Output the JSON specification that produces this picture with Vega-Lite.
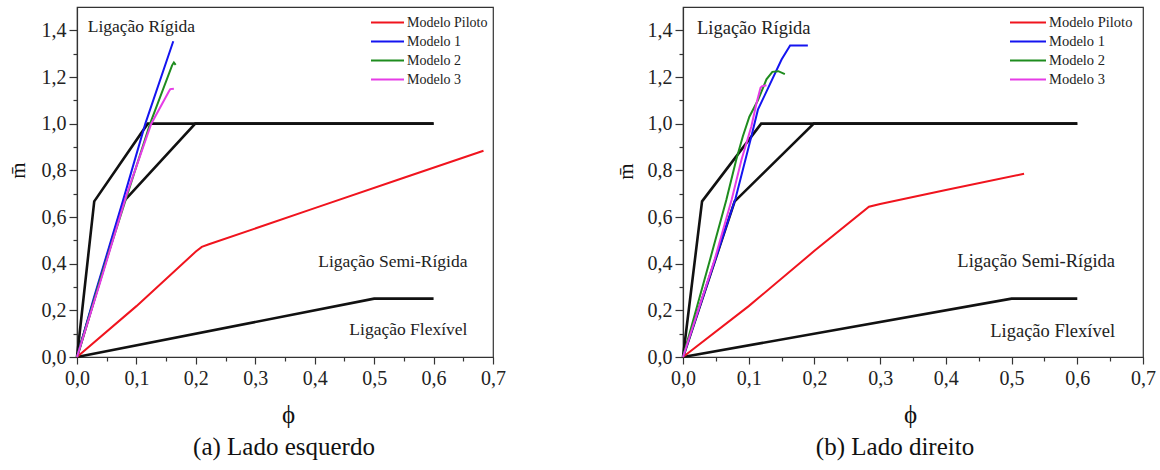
{
  "$schema": "https://vega.github.io/schema/vega-lite/v6.json",
  "background": "white",
  "padding": {"left": 6, "top": 6, "right": 0, "bottom": 0},
  "config": {
    "font": "Liberation Serif, Times New Roman, Times, serif",
    "view": {"stroke": "#333", "strokeWidth": 1.2},
    "axis": {"domainColor": "#333", "domainWidth": 1.2, "tickColor": "#333", "tickWidth": 1.2, "labelFont": "Liberation Serif, Times New Roman, Times, serif", "labelFontSize": 20, "labelColor": "#222", "titleFont": "Liberation Serif, Times New Roman, Times, serif", "titleFontWeight": "normal", "titleColor": "#111", "grid": false, "labelOverlap": false, "labelFlush": false},
    "legend": {"labelFont": "Liberation Serif, Times New Roman, Times, serif"},
    "text": {"font": "Liberation Serif, Times New Roman, Times, serif"},
    "title": {"font": "Liberation Serif, Times New Roman, Times, serif", "fontWeight": "normal", "color": "#111"}
  },
  "datasets": {
    "ref": [
      {"s": "B1", "i": 0, "x": 0, "y": 0}, {"s": "B1", "i": 1, "x": 0.029, "y": 0.667}, {"s": "B1", "i": 2, "x": 0.119, "y": 1.0}, {"s": "B1", "i": 3, "x": 0.6, "y": 1.0},
      {"s": "B2", "i": 0, "x": 0, "y": 0}, {"s": "B2", "i": 1, "x": 0.0786, "y": 0.667}, {"s": "B2", "i": 2, "x": 0.199, "y": 1.0}, {"s": "B2", "i": 3, "x": 0.6, "y": 1.0},
      {"s": "B3", "i": 0, "x": 0, "y": 0}, {"s": "B3", "i": 1, "x": 0.5, "y": 0.25}, {"s": "B3", "i": 2, "x": 0.6, "y": 0.25}
    ],
    "models": [
      {"panel": "L", "s": "Modelo Piloto", "i": 0, "x": 0, "y": 0},
      {"panel": "L", "s": "Modelo Piloto", "i": 1, "x": 0.1, "y": 0.218},
      {"panel": "L", "s": "Modelo Piloto", "i": 2, "x": 0.2, "y": 0.452},
      {"panel": "L", "s": "Modelo Piloto", "i": 3, "x": 0.21, "y": 0.472},
      {"panel": "L", "s": "Modelo Piloto", "i": 4, "x": 0.222, "y": 0.483},
      {"panel": "L", "s": "Modelo Piloto", "i": 5, "x": 0.4, "y": 0.638},
      {"panel": "L", "s": "Modelo Piloto", "i": 6, "x": 0.55, "y": 0.768},
      {"panel": "L", "s": "Modelo Piloto", "i": 7, "x": 0.684, "y": 0.884},
      {"panel": "L", "s": "Modelo 1", "i": 0, "x": 0, "y": 0},
      {"panel": "L", "s": "Modelo 1", "i": 1, "x": 0.029, "y": 0.259},
      {"panel": "L", "s": "Modelo 1", "i": 2, "x": 0.077, "y": 0.667},
      {"panel": "L", "s": "Modelo 1", "i": 3, "x": 0.115, "y": 1.0},
      {"panel": "L", "s": "Modelo 1", "i": 4, "x": 0.162, "y": 1.353},
      {"panel": "L", "s": "Modelo 2", "i": 0, "x": 0, "y": 0},
      {"panel": "L", "s": "Modelo 2", "i": 1, "x": 0.04, "y": 0.34},
      {"panel": "L", "s": "Modelo 2", "i": 2, "x": 0.081, "y": 0.667},
      {"panel": "L", "s": "Modelo 2", "i": 3, "x": 0.123, "y": 1.0},
      {"panel": "L", "s": "Modelo 2", "i": 4, "x": 0.16, "y": 1.25},
      {"panel": "L", "s": "Modelo 2", "i": 5, "x": 0.163, "y": 1.262},
      {"panel": "L", "s": "Modelo 2", "i": 6, "x": 0.166, "y": 1.252},
      {"panel": "L", "s": "Modelo 3", "i": 0, "x": 0, "y": 0},
      {"panel": "L", "s": "Modelo 3", "i": 1, "x": 0.042, "y": 0.345},
      {"panel": "L", "s": "Modelo 3", "i": 2, "x": 0.084, "y": 0.7},
      {"panel": "L", "s": "Modelo 3", "i": 3, "x": 0.125, "y": 1.0},
      {"panel": "L", "s": "Modelo 3", "i": 4, "x": 0.155, "y": 1.14},
      {"panel": "L", "s": "Modelo 3", "i": 5, "x": 0.157, "y": 1.148},
      {"panel": "L", "s": "Modelo 3", "i": 6, "x": 0.163, "y": 1.15},
      {"panel": "R", "s": "Modelo Piloto", "i": 0, "x": 0, "y": 0},
      {"panel": "R", "s": "Modelo Piloto", "i": 1, "x": 0.1, "y": 0.218},
      {"panel": "R", "s": "Modelo Piloto", "i": 2, "x": 0.2, "y": 0.455},
      {"panel": "R", "s": "Modelo Piloto", "i": 3, "x": 0.283, "y": 0.644},
      {"panel": "R", "s": "Modelo Piloto", "i": 4, "x": 0.3, "y": 0.656},
      {"panel": "R", "s": "Modelo Piloto", "i": 5, "x": 0.4, "y": 0.716},
      {"panel": "R", "s": "Modelo Piloto", "i": 6, "x": 0.519, "y": 0.785},
      {"panel": "R", "s": "Modelo 1", "i": 0, "x": 0, "y": 0},
      {"panel": "R", "s": "Modelo 1", "i": 1, "x": 0.04, "y": 0.34},
      {"panel": "R", "s": "Modelo 1", "i": 2, "x": 0.08, "y": 0.68},
      {"panel": "R", "s": "Modelo 1", "i": 3, "x": 0.104, "y": 0.945},
      {"panel": "R", "s": "Modelo 1", "i": 4, "x": 0.114, "y": 1.06},
      {"panel": "R", "s": "Modelo 1", "i": 5, "x": 0.15, "y": 1.275},
      {"panel": "R", "s": "Modelo 1", "i": 6, "x": 0.163, "y": 1.335},
      {"panel": "R", "s": "Modelo 1", "i": 7, "x": 0.19, "y": 1.335},
      {"panel": "R", "s": "Modelo 2", "i": 0, "x": 0, "y": 0},
      {"panel": "R", "s": "Modelo 2", "i": 1, "x": 0.041, "y": 0.416},
      {"panel": "R", "s": "Modelo 2", "i": 2, "x": 0.066, "y": 0.674},
      {"panel": "R", "s": "Modelo 2", "i": 3, "x": 0.081, "y": 0.845},
      {"panel": "R", "s": "Modelo 2", "i": 4, "x": 0.091, "y": 0.945},
      {"panel": "R", "s": "Modelo 2", "i": 5, "x": 0.101, "y": 1.03},
      {"panel": "R", "s": "Modelo 2", "i": 6, "x": 0.114, "y": 1.1},
      {"panel": "R", "s": "Modelo 2", "i": 7, "x": 0.127, "y": 1.19},
      {"panel": "R", "s": "Modelo 2", "i": 8, "x": 0.136, "y": 1.222},
      {"panel": "R", "s": "Modelo 2", "i": 9, "x": 0.145, "y": 1.225},
      {"panel": "R", "s": "Modelo 2", "i": 10, "x": 0.155, "y": 1.212},
      {"panel": "R", "s": "Modelo 3", "i": 0, "x": 0, "y": 0},
      {"panel": "R", "s": "Modelo 3", "i": 1, "x": 0.048, "y": 0.416},
      {"panel": "R", "s": "Modelo 3", "i": 2, "x": 0.074, "y": 0.674},
      {"panel": "R", "s": "Modelo 3", "i": 3, "x": 0.089, "y": 0.845},
      {"panel": "R", "s": "Modelo 3", "i": 4, "x": 0.104, "y": 0.988},
      {"panel": "R", "s": "Modelo 3", "i": 5, "x": 0.112, "y": 1.09},
      {"panel": "R", "s": "Modelo 3", "i": 6, "x": 0.118, "y": 1.154},
      {"panel": "R", "s": "Modelo 3", "i": 7, "x": 0.12, "y": 1.16},
      {"panel": "R", "s": "Modelo 3", "i": 8, "x": 0.127, "y": 1.165}
    ],
    "labels": [
      {"panel": "L", "t": "Ligação Rígida", "x": 0.018, "y": 1.392},
      {"panel": "L", "t": "Ligação Semi-Rígida", "x": 0.657, "y": 0.385},
      {"panel": "L", "t": "Ligação Flexível", "x": 0.657, "y": 0.094},
      {"panel": "R", "t": "Ligação Rígida", "x": 0.0213, "y": 1.384},
      {"panel": "R", "t": "Ligação Semi-Rígida", "x": 0.6575, "y": 0.3875},
      {"panel": "R", "t": "Ligação Flexível", "x": 0.6575, "y": 0.086}
    ]
  },
  "spacing": 190,
  "bounds": "flush",
  "resolve": {"scale": {"color": "independent"}},
  "hconcat": [
    {
      "width": 416,
      "height": 350,
      "title": {"text": "(a) Lado esquerdo", "orient": "bottom", "anchor": "middle", "fontSize": 25, "offset": 8, "dx": -1},
      "encoding": {
        "x": {"field": "x", "type": "quantitative", "scale": {"domain": [0, 0.7], "nice": false, "zero": false},
          "axis": {"title": "ϕ", "values": [0, 0.05, 0.1, 0.15, 0.2, 0.25, 0.3, 0.35, 0.4, 0.45, 0.5, 0.55, 0.6, 0.65, 0.7],
            "labelExpr": "round(datum.value*100) % 10 == 0 ? replace(format(datum.value, '.1f'), '.', ',') : ''",
            "tickSize": {"condition": {"test": "round(datum.value*100) % 10 != 0", "value": 4}, "value": 7},
            "labelPadding": 4, "titleFontSize": 25, "titleX": 211, "titleY": 65, "titleAlign": "center", "titleBaseline": "alphabetic"}},
        "y": {"field": "y", "type": "quantitative", "scale": {"domain": [0, 1.5], "nice": false, "zero": false},
          "axis": {"title": "m̄", "values": [0, 0.1, 0.2, 0.3, 0.4, 0.5, 0.6, 0.7, 0.8, 0.9, 1.0, 1.1, 1.2, 1.3, 1.4],
            "labelExpr": "round(datum.value*10) % 2 == 0 ? replace(format(datum.value, '.1f'), '.', ',') : ''",
            "tickSize": {"condition": {"test": "round(datum.value*10) % 2 != 0", "value": 4}, "value": 8},
            "labelPadding": 3, "titleFontSize": 21, "titleX": -59, "titleY": 163, "titleAlign": "center", "titleBaseline": "middle", "titleAngle": 270}}
      },
      "layer": [
        {"data": {"name": "ref"}, "mark": {"type": "line", "color": "#111", "strokeWidth": 2.6},
          "encoding": {"detail": {"field": "s"}, "order": {"field": "i", "type": "quantitative"}}},
        {"data": {"name": "models"}, "transform": [{"filter": "datum.panel == 'L'"}],
          "mark": {"type": "line", "strokeWidth": 2},
          "encoding": {
            "color": {"field": "s", "type": "nominal",
              "scale": {"domain": ["Modelo Piloto", "Modelo 1", "Modelo 2", "Modelo 3"], "range": ["#f0141e", "#1414f0", "#1e8c1e", "#e63ce6"]},
              "legend": {"orient": "none", "legendX": 293, "legendY": 6, "title": null, "symbolType": "stroke", "symbolSize": 1089, "symbolStrokeWidth": 2, "labelFontSize": 14, "labelColor": "#222", "labelOffset": 2, "clipHeight": 19, "rowPadding": 0, "padding": 0}},
            "order": {"field": "i", "type": "quantitative"}}},
        {"data": {"name": "labels"}, "transform": [{"filter": "datum.panel == 'L' && datum.t == 'Ligação Rígida'"}],
          "mark": {"type": "text", "align": "left", "baseline": "alphabetic", "fontSize": 17.5, "color": "#222"},
          "encoding": {"text": {"field": "t"}}},
        {"data": {"name": "labels"}, "transform": [{"filter": "datum.panel == 'L' && datum.t != 'Ligação Rígida'"}],
          "mark": {"type": "text", "align": "right", "baseline": "alphabetic", "fontSize": 17.5, "color": "#222"},
          "encoding": {"text": {"field": "t"}}}
      ]
    },
    {
      "width": 460,
      "height": 350,
      "title": {"text": "(b) Lado direito", "orient": "bottom", "anchor": "middle", "fontSize": 25, "offset": 8, "dx": -18},
      "encoding": {
        "x": {"field": "x", "type": "quantitative", "scale": {"domain": [0, 0.7], "nice": false, "zero": false},
          "axis": {"title": "ϕ", "values": [0, 0.05, 0.1, 0.15, 0.2, 0.25, 0.3, 0.35, 0.4, 0.45, 0.5, 0.55, 0.6, 0.65, 0.7],
            "labelExpr": "round(datum.value*100) % 10 == 0 ? replace(format(datum.value, '.1f'), '.', ',') : ''",
            "tickSize": {"condition": {"test": "round(datum.value*100) % 10 != 0", "value": 4}, "value": 7},
            "labelPadding": 4, "titleFontSize": 25, "titleX": 227, "titleY": 65, "titleAlign": "center", "titleBaseline": "alphabetic"}},
        "y": {"field": "y", "type": "quantitative", "scale": {"domain": [0, 1.5], "nice": false, "zero": false},
          "axis": {"title": "m̄", "values": [0, 0.1, 0.2, 0.3, 0.4, 0.5, 0.6, 0.7, 0.8, 0.9, 1.0, 1.1, 1.2, 1.3, 1.4],
            "labelExpr": "round(datum.value*10) % 2 == 0 ? replace(format(datum.value, '.1f'), '.', ',') : ''",
            "tickSize": {"condition": {"test": "round(datum.value*10) % 2 != 0", "value": 4}, "value": 8},
            "labelPadding": 3, "titleFontSize": 21, "titleX": -57, "titleY": 164, "titleAlign": "center", "titleBaseline": "middle", "titleAngle": 270}}
      },
      "layer": [
        {"data": {"name": "ref"}, "mark": {"type": "line", "color": "#111", "strokeWidth": 2.6},
          "encoding": {"detail": {"field": "s"}, "order": {"field": "i", "type": "quantitative"}}},
        {"data": {"name": "models"}, "transform": [{"filter": "datum.panel == 'R'"}],
          "mark": {"type": "line", "strokeWidth": 2},
          "encoding": {
            "color": {"field": "s", "type": "nominal",
              "scale": {"domain": ["Modelo Piloto", "Modelo 1", "Modelo 2", "Modelo 3"], "range": ["#f0141e", "#1414f0", "#1e8c1e", "#e63ce6"]},
              "legend": {"orient": "none", "legendX": 326, "legendY": 6, "title": null, "symbolType": "stroke", "symbolSize": 1296, "symbolStrokeWidth": 2, "labelFontSize": 14.5, "labelColor": "#222", "labelOffset": 2, "clipHeight": 19, "rowPadding": 0, "padding": 0}},
            "order": {"field": "i", "type": "quantitative"}}},
        {"data": {"name": "labels"}, "transform": [{"filter": "datum.panel == 'R' && datum.t == 'Ligação Rígida'"}],
          "mark": {"type": "text", "align": "left", "baseline": "alphabetic", "fontSize": 18.5, "color": "#222"},
          "encoding": {"text": {"field": "t"}}},
        {"data": {"name": "labels"}, "transform": [{"filter": "datum.panel == 'R' && datum.t != 'Ligação Rígida'"}],
          "mark": {"type": "text", "align": "right", "baseline": "alphabetic", "fontSize": 18.5, "color": "#222"},
          "encoding": {"text": {"field": "t"}}}
      ]
    }
  ]
}
